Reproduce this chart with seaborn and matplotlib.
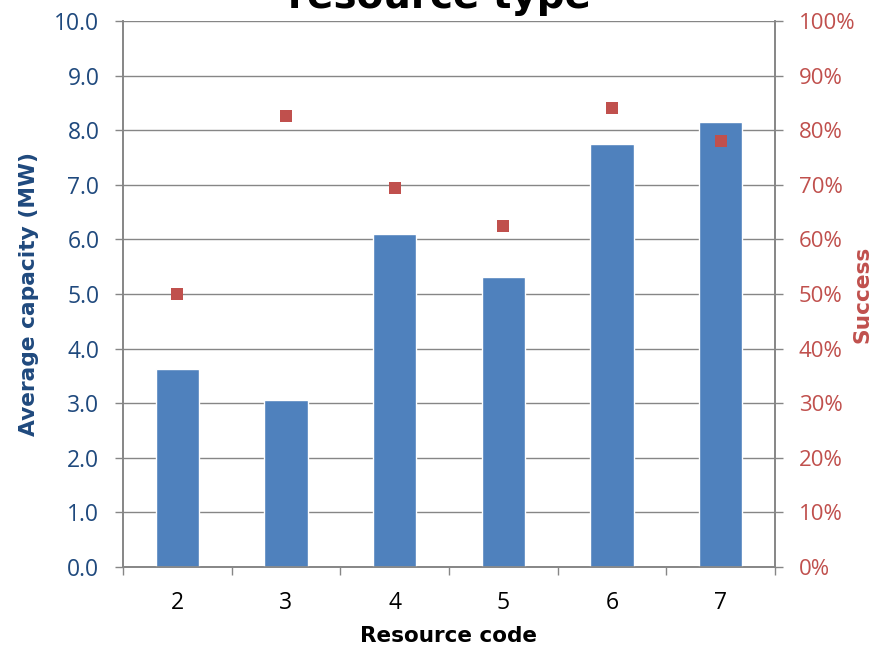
import matplotlib
matplotlib.use("Agg")
import matplotlib.pyplot as plt
import seaborn as sns
import pandas as pd
from matplotlib.ticker import FixedLocator, FuncFormatter

codes = ["2", "3", "4", "5", "6", "7"]
avg_capacity = [3.63, 3.06, 6.10, 5.31, 7.75, 8.15]
success = [0.50, 0.826, 0.694, 0.625, 0.84, 0.78]
title_text = "resource type"

df = pd.DataFrame({"code": codes, "capacity": avg_capacity, "success": success})

sns.set_theme(style="white")
plt.rcParams["font.family"] = ["Open Sans", "DejaVu Sans"]
bold_font = ["DejaVu Sans"]

fig = plt.figure(figsize=(8.73, 6.51), dpi=100)
ax = fig.add_axes([123/873, 1 - 567/651, (775 - 123)/873, (567 - 21)/651])

blue = "#4F81BD"
red = "#C0504D"
grid_c = "#868686"
lab_blue = "#1F497D"

sns.barplot(data=df, x="code", y="capacity", color=blue, width=0.4,
            saturation=1, ax=ax, zorder=3)
ax.set_ylim(0, 10)
ax.set_xlim(-0.5, 5.5)
ax.set_yticks([i for i in range(11)])
ax.set_yticklabels([f"{i:.1f}" for i in range(11)])
ax.yaxis.grid(True, color=grid_c, linewidth=1, zorder=0)
ax.set_axisbelow(True)
ax.tick_params(axis="y", colors=grid_c, labelcolor=lab_blue, labelsize=16.5,
               length=6, width=1, direction="out", left=True, pad=11)
ax.set_xticks(range(6))
ax.xaxis.set_minor_locator(FixedLocator([i - 0.5 for i in range(7)]))
ax.tick_params(axis="x", which="major", length=0, labelsize=16.5, labelcolor="black", pad=17)
ax.tick_params(axis="x", which="minor", length=6, width=1, color=grid_c, direction="out", bottom=True)
ax.set_xlabel("Resource code", fontsize=15.5, fontweight="bold", color="black",
              family=bold_font, labelpad=8)
ax.set_ylabel("Average capacity (MW)", fontsize=15.7, fontweight="bold", color=lab_blue,
              family=bold_font)
ax.yaxis.set_label_coords((39 - 123) / 652, 0.5)
ax.spines["top"].set_visible(False)
for s in ["left", "right", "bottom"]:
    ax.spines[s].set_color(grid_c)
    ax.spines[s].set_linewidth(1.2)

ax2 = ax.twinx()
sns.scatterplot(data=df, x="code", y="success", marker="s", color=red, s=80,
                edgecolor=red, linewidth=0, ax=ax2, zorder=4)
ax2.set_ylim(0, 1)
ax2.set_xlim(-0.5, 5.5)
ax2.set_yticks([i / 10 for i in range(11)])
ax2.yaxis.set_major_formatter(FuncFormatter(lambda v, p: f"{v*100:.0f}%"))
ax2.tick_params(axis="y", colors=grid_c, labelcolor=red, labelsize=16,
                length=6, width=1, direction="out", right=True, pad=11)
ax2.set_ylabel("Success", fontsize=15.7, fontweight="bold", color=red, family=bold_font)
ax2.yaxis.set_label_coords((852 - 123) / 652, 0.5)
ax2.grid(False)
ax2.spines["top"].set_visible(False)
for s in ["left", "right", "bottom"]:
    ax2.spines[s].set_color(grid_c)
    ax2.spines[s].set_linewidth(1.2)

fig.text(440/873, 1 - 8/651, title_text, ha="center", va="baseline",
         fontsize=28, fontweight="bold", color="black", family=bold_font)

fig.savefig("out.png", dpi=100)
